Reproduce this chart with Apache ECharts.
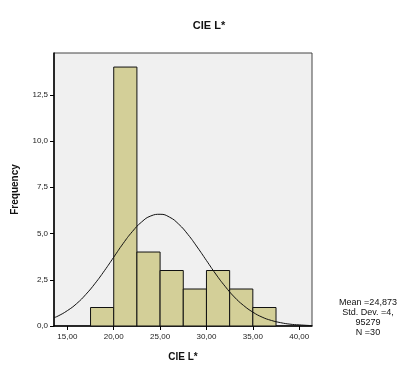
<!DOCTYPE html>
<html>
<head>
<meta charset="utf-8">
<script src="https://cdn.jsdelivr.net/npm/echarts@6/dist/echarts.min.js"></script>
<style>
  html, body { margin: 0; padding: 0; background: #fff; }
  #chart { width: 398px; height: 367px; }
</style>
</head>
<body>
<div id="chart"></div>
<script>
// histogram bins (CIE L*), width 2.5
const binStarts = [17.5, 20, 22.5, 25, 27.5, 30, 32.5, 35];
const binEnds = [20, 22.5, 25, 27.5, 30, 32.5, 35, 37.5];
const counts = [1, 14, 4, 3, 2, 3, 2, 1];

// normal curve
const curveX = [13.56, 14, 15, 16, 17, 18, 19, 20, 21, 22, 23, 24, 25, 26, 27, 28, 29, 30, 31, 32, 33, 34, 35, 36, 37, 38, 39, 40, 41.38];
const curveY = [0.45, 0.54, 0.83, 1.21, 1.71, 2.31, 2.99, 3.72, 4.45, 5.1, 5.62, 5.95, 6.04, 5.89, 5.51, 4.95, 4.27, 3.54, 2.81, 2.15, 1.57, 1.11, 0.75, 0.48, 0.3, 0.18, 0.1, 0.06, 0.02];

const xTicks = [15, 20, 25, 30, 35, 40];
const yTicks = [0, 2.5, 5, 7.5, 10, 12.5];

const statsLines = ['Mean =24,873', 'Std. Dev. =4,', '95279', 'N =30'];

const FONT = '"Liberation Sans", Arial, sans-serif';
const BAR_FILL = '#d3cf98';

const chart = echarts.init(document.getElementById('chart'));

const histData = binStarts.map((s, i) => [s, binEnds[i], counts[i]]);
const curveData = curveX.map((x, i) => [x, curveY[i]]);

chart.setOption({
  animation: false,
  backgroundColor: '#fff',
  textStyle: { fontFamily: FONT },
  title: {
    text: 'CIE L*',
    left: 204,
    top: 15,
    textAlign: 'center',
    textStyle: { fontSize: 11, fontWeight: 'bold', color: '#111', fontFamily: FONT }
  },
  graphic: [{
    type: 'text',
    x: 368,
    y: 298,
    style: {
      text: statsLines.join('\n'),
      x: 0,
      y: 0,
      align: 'center',
      verticalAlign: 'top',
      fill: '#111',
      font: '9px ' + FONT,
      lineHeight: 10
    }
  }],
  grid: {
    left: 54, right: 86, top: 53, bottom: 41,
    show: true,
    backgroundColor: '#f0f0f0',
    borderColor: '#444',
    borderWidth: 1
  },
  xAxis: {
    type: 'value',
    min: 13.56,
    max: 41.38,
    name: 'CIE L*',
    nameLocation: 'middle',
    nameGap: 26,
    nameTextStyle: { fontSize: 10, fontWeight: 'bold', color: '#111', fontFamily: FONT },
    axisLine: { show: true, onZero: false, lineStyle: { color: '#000', width: 1.5 } },
    axisTick: { show: true, customValues: xTicks, length: 4, lineStyle: { color: '#000' } },
    axisLabel: {
      customValues: xTicks,
      formatter: v => v.toFixed(2).replace('.', ','),
      fontSize: 8, color: '#222', margin: 7
    },
    splitLine: { show: false }
  },
  yAxis: {
    type: 'value',
    min: 0,
    max: 14.76,
    name: 'Frequency',
    nameLocation: 'middle',
    nameGap: 34,
    nameTextStyle: { fontSize: 10, fontWeight: 'bold', color: '#111', fontFamily: FONT },
    axisLine: { show: true, lineStyle: { color: '#000', width: 1.5 } },
    axisTick: { show: true, customValues: yTicks, length: 4, lineStyle: { color: '#000' } },
    axisLabel: {
      customValues: yTicks,
      formatter: v => v.toFixed(1).replace('.', ','),
      fontSize: 8, color: '#222', margin: 6
    },
    splitLine: { show: false }
  },
  series: [
    {
      type: 'custom',
      data: histData,
      encode: { x: [0, 1], y: 2 },
      renderItem: (params, api) => {
        const p0 = api.coord([api.value(0), 0]);
        const p1 = api.coord([api.value(1), api.value(2)]);
        return {
          type: 'rect',
          shape: { x: p0[0], y: p1[1], width: p1[0] - p0[0], height: p0[1] - p1[1] },
          style: { fill: BAR_FILL, stroke: '#111', lineWidth: 1 }
        };
      },
      z: 2
    },
    {
      type: 'line',
      data: curveData,
      smooth: true,
      showSymbol: false,
      lineStyle: { color: '#111', width: 1 },
      z: 3
    }
  ]
});
</script>
</body>
</html>
